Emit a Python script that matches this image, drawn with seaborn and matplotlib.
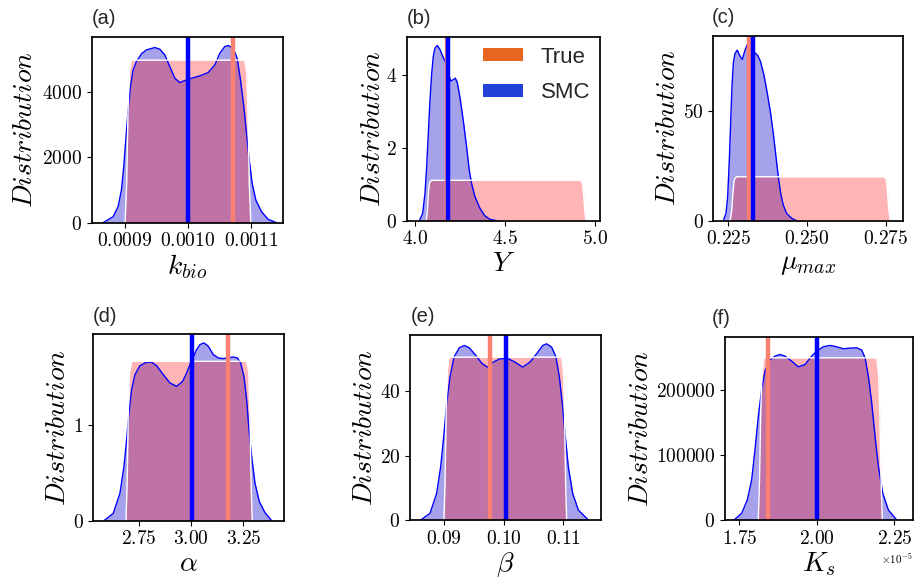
import matplotlib
matplotlib.use("Agg")
import matplotlib.pyplot as plt
from matplotlib.patches import Patch
import seaborn as sns

# ---------------- data ----------------
# (a) k_bio
kbio_post_x = [0.0008656, 0.0008815, 0.0008894, 0.0008947, 0.0008984, 0.0009016, 0.0009053, 0.0009090,
               0.0009132, 0.0009185, 0.0009265, 0.0009344, 0.0009476, 0.0009556, 0.0009635, 0.0009714,
               0.0009794, 0.0009873, 0.0009952, 0.0010058, 0.0010190, 0.0010323, 0.0010429, 0.0010508,
               0.0010587, 0.0010640, 0.0010720, 0.0010783, 0.0010836, 0.0010889, 0.0010931, 0.0010974,
               0.0011021, 0.0011079, 0.0011169, 0.0011275, 0.0011407]
kbio_post_d = [0, 184, 490, 1000, 1714, 2530, 3448, 4162, 4672, 4927, 5161, 5284, 5355, 5304, 5131, 4774,
               4417, 4284, 4345, 4417, 4488, 4590, 4825, 5182, 5386, 5416, 5335, 5029, 4366, 3550, 2734,
               1918, 1204, 694, 337, 102, 0]
kbio_prior_x = [0.0009005, 0.0009030, 0.0009050, 0.0009070, 0.0009100, 0.0010000, 0.0010905, 0.0010935,
                0.0010955, 0.0010975, 0.0011000]
kbio_prior_d = [0, 1200, 3300, 4600, 4970, 4970, 4970, 4600, 3300, 1200, 0]
kbio_true, kbio_smc = 0.001071, 0.0010

# (b) Y
Y_post_x = [4.0241, 4.0426, 4.0556, 4.0648, 4.0741, 4.0833, 4.0926, 4.1019, 4.1111, 4.1241, 4.1389, 4.1537,
            4.1667, 4.1981, 4.2130, 4.2241, 4.2352, 4.2500, 4.2685, 4.2870, 4.3019, 4.3148, 4.3333, 4.3611,
            4.3889, 4.4167, 4.4537]
Y_post_d = [0, 0.20, 0.75, 1.48, 2.39, 3.30, 4.03, 4.53, 4.75, 4.82, 4.71, 4.53, 4.39, 3.84, 3.88, 3.92,
            3.80, 3.39, 2.75, 2.02, 1.38, 1.02, 0.66, 0.34, 0.13, 0.04, 0]
Y_prior_x = [4.063, 4.069, 4.074, 4.080, 4.090, 4.5, 4.921, 4.930, 4.937, 4.943, 4.951]
Y_prior_d = [0, 0.28, 0.75, 1.03, 1.111, 1.111, 1.111, 1.03, 0.75, 0.28, 0]
Y_true, Y_smc = 4.180, 4.181

# (c) mu_max
mu_post_x = [0.22341, 0.22426, 0.22479, 0.22532, 0.22574, 0.22616, 0.22659, 0.22711, 0.22785, 0.22870,
             0.22944, 0.23029, 0.23103, 0.23145, 0.23367, 0.23430, 0.23525, 0.23631, 0.23737, 0.23843,
             0.23927, 0.24012, 0.24086, 0.24160, 0.24244, 0.24350, 0.24508, 0.24667]
mu_post_d = [0, 3.3, 10.9, 27.7, 44.4, 61.1, 71.7, 76.3, 77.8, 75.1, 73.6, 77.8, 80.4, 79.3, 76.3, 75.5,
             72.5, 66.4, 58.1, 48.9, 39.8, 29.2, 20.1, 12.5, 7.1, 3.3, 1.1, 0]
mu_prior_x = [0.2256, 0.2261, 0.2265, 0.2269, 0.2276, 0.2500, 0.2744, 0.2751, 0.2755, 0.2759, 0.2764]
mu_prior_d = [0, 5, 13.5, 18.8, 20.06, 20.06, 20.06, 18.8, 13.5, 5, 0]
mu_true, mu_smc = 0.2317, 0.2327

# (d) alpha
alpha_post_x = [2.5801, 2.6250, 2.6571, 2.6763, 2.6891, 2.7003, 2.7131, 2.7292, 2.7532, 2.7853, 2.8093,
                2.8333, 2.8654, 2.8974, 2.9295, 2.9583, 2.9776, 2.9936, 3.0256, 3.0417, 3.0609, 3.0817,
                3.1058, 3.1298, 3.1538, 3.2019, 3.2212, 3.2372, 3.2532, 3.2660, 3.2772, 3.2901, 3.3061,
                3.3269, 3.3542, 3.3862]
alpha_post_d = [0, 0.077, 0.286, 0.564, 0.843, 1.122, 1.366, 1.523, 1.617, 1.652, 1.652, 1.617, 1.523,
                1.436, 1.401, 1.453, 1.540, 1.627, 1.784, 1.836, 1.854, 1.819, 1.732, 1.697, 1.690, 1.707,
                1.697, 1.645, 1.505, 1.261, 0.948, 0.669, 0.390, 0.199, 0.084, 0]
alpha_prior_x = [2.686, 2.692, 2.697, 2.703, 2.713, 3.0, 3.266, 3.276, 3.282, 3.287, 3.293]
alpha_prior_d = [0, 0.42, 1.12, 1.55, 1.662, 1.662, 1.662, 1.55, 1.12, 0.42, 0]
alpha_true, alpha_smc = 3.178, 3.005

# (e) beta
beta_post_x = [0.086022, 0.087591, 0.088711, 0.089384, 0.089944, 0.090392, 0.090952, 0.091625, 0.092521,
               0.093361, 0.094202, 0.095154, 0.096275, 0.097227, 0.098235, 0.099356, 0.100756, 0.101877,
               0.103165, 0.104398, 0.105518, 0.106527, 0.107199, 0.108039, 0.108768, 0.109328, 0.109832,
               0.110280, 0.110840, 0.111569, 0.112521, 0.114202]
beta_post_d = [0, 2.06, 8.25, 16.49, 26.80, 36.08, 44.33, 50.52, 53.40, 54.12, 53.40, 51.34, 48.66, 47.42,
               48.97, 50.00, 50.00, 48.97, 47.42, 48.97, 51.55, 54.12, 54.64, 53.61, 50.52, 44.33, 36.08,
               26.80, 16.49, 8.25, 3.09, 0]
beta_prior_x = [0.08994, 0.09012, 0.09030, 0.09048, 0.09078, 0.1000, 0.10972, 0.11002, 0.11020, 0.11038, 0.11056]
beta_prior_d = [0, 12, 33, 46, 50.5, 50.5, 50.5, 46, 33, 12, 0]
beta_true, beta_smc = 0.0977, 0.1003

# (f) K_s
Ks_post_x = [1.7328e-5, 1.7575e-5, 1.7758e-5, 1.7898e-5, 1.8005e-5, 1.8113e-5, 1.8220e-5, 1.8328e-5,
             1.8468e-5, 1.8651e-5, 1.8812e-5, 1.8973e-5, 1.9188e-5, 1.9403e-5, 1.9618e-5, 1.9833e-5,
             1.9995e-5, 2.0210e-5, 2.0425e-5, 2.0640e-5, 2.0855e-5, 2.1070e-5, 2.1285e-5, 2.1446e-5,
             2.1554e-5, 2.1661e-5, 2.1769e-5, 2.1876e-5, 2.1984e-5, 2.2124e-5, 2.2306e-5, 2.2575e-5]
Ks_post_d = [0, 10256, 30768, 61536, 107688, 158968, 199992, 228196, 244606, 251272, 253836, 251272,
             243580, 234862, 238452, 251272, 258964, 265630, 267682, 265630, 262554, 263579, 264092,
             260502, 248708, 220504, 179480, 128200, 82048, 41024, 15384, 0]
Ks_prior_x = [1.811e-5, 1.815e-5, 1.819e-5, 1.823e-5, 1.829e-5, 2.0e-5, 2.193e-5, 2.199e-5, 2.203e-5,
              2.207e-5, 2.211e-5]
Ks_prior_d = [0, 60000, 165000, 225000, 248700, 248700, 248700, 225000, 165000, 60000, 0]
Ks_true, Ks_smc = 1.8435e-5, 2.002e-5

panel_titles = ["(a)", "(b)", "(c)", "(d)", "(e)", "(f)"]
x_labels = [r"$k_{bio}$", r"$Y$", r"$\mu_{max}$", r"$\alpha$", r"$\beta$", r"$K_s$"]
x_ticks = [[0.0009, 0.0010, 0.0011], [4.0, 4.5, 5.0], [0.225, 0.250, 0.275],
           [2.75, 3.00, 3.25], [0.09, 0.10, 0.11], [1.75e-5, 2.00e-5, 2.25e-5]]
y_ticks = [[0, 2000, 4000], [0, 2, 4], [0, 50], [0, 1], [0, 20, 40], [0, 100000, 200000]]
legend_labels = ["True", "SMC"]

# ---------------- style ----------------
sns.set_style("ticks")
plt.rcParams.update({
    "font.family": ["cmr10", "DejaVu Sans"],
    "mathtext.fontset": "cm",
    "axes.formatter.use_mathtext": True,
    "axes.unicode_minus": False,
    "axes.edgecolor": "black",
    "axes.linewidth": 1.25,
    "xtick.color": "black",
    "ytick.color": "black",
    "xtick.labelsize": 14,
    "ytick.labelsize": 14,
    "axes.labelcolor": "black",
})
SANS = "Liberation Sans"
POST_FILL = "#2a1fd0"

fig = plt.figure(figsize=(9.14, 5.79), dpi=100)
W, H = 914.0, 579.0

# pixel boxes: left, right, top, bottom
boxes = [(92.0, 283.0, 36.7, 222.7), (406.7, 600.0, 36.7, 220.7), (713.3, 903.3, 35.7, 220.7),
         (93.3, 284.3, 334.0, 520.7), (410.0, 601.0, 335.0, 520.0), (725.0, 912.7, 336.7, 520.0)]
xlims = [(0.000848, 0.001151), (3.954, 5.028), (0.22024, 0.2805),
         (2.529, 3.447), (0.08423, 0.11633), (1.7038e-5, 2.309e-5)]
ylabel_x_px = [38, 386, 681, 71, 378, 654]
title_x_px = [92, 407, 712, 93, 411, 712]

series = [
    (kbio_post_x, kbio_post_d, kbio_prior_x, kbio_prior_d, kbio_true, kbio_smc),
    (Y_post_x, Y_post_d, Y_prior_x, Y_prior_d, Y_true, Y_smc),
    (mu_post_x, mu_post_d, mu_prior_x, mu_prior_d, mu_true, mu_smc),
    (alpha_post_x, alpha_post_d, alpha_prior_x, alpha_prior_d, alpha_true, alpha_smc),
    (beta_post_x, beta_post_d, beta_prior_x, beta_prior_d, beta_true, beta_smc),
    (Ks_post_x, Ks_post_d, Ks_prior_x, Ks_prior_d, Ks_true, Ks_smc),
]

for i, (px, pd_, qx, qd, tv, sv) in enumerate(series):
    l, r, t, b = boxes[i]
    ax = fig.add_axes([l / W, 1 - b / H, (r - l) / W, (b - t) / H])
    # posterior (SMC)
    ax.fill_between(px, pd_, color=POST_FILL, alpha=0.42, lw=0)
    sns.lineplot(x=px, y=pd_, ax=ax, color="blue", lw=1.0, sort=False)
    # prior
    ax.fill_between(qx, qd, color="red", alpha=0.29, lw=0)
    sns.lineplot(x=qx, y=qd, ax=ax, color="white", lw=1.0, sort=False)
    # true & SMC estimates
    ax.axvline(tv, color="salmon", lw=3.2)
    ax.axvline(sv, color="blue", lw=3.2)

    ax.set_xlim(*xlims[i])
    ax.set_ylim(bottom=0)
    ax.set_xticks(x_ticks[i])
    ax.set_yticks(y_ticks[i])
    if i == 5:
        ax.ticklabel_format(axis="x", style="sci", scilimits=(0, 0), useMathText=True)
        ax.xaxis.get_offset_text().set_fontsize(8)
    ax.set_xlabel(x_labels[i], fontsize=20, labelpad=1.5)
    ax.set_ylabel(r"$Distribution$", fontsize=20)
    ax.yaxis.set_label_coords((ylabel_x_px[i] - l) / (r - l), 0.5)
    ax.set_title(panel_titles[i], loc="left", pad=9, fontsize=14.5, family=SANS,
                 x=(title_x_px[i] - l) / (r - l))
    for s in ax.spines.values():
        s.set_visible(True)
        s.set_color("black")

    if i == 1:
        handles = [Patch(facecolor="#e6651f", edgecolor="none"),
                   Patch(facecolor="#2342d8", edgecolor="none")]
        ax.legend(handles, legend_labels, loc="upper right", frameon=False,
                  prop={"family": SANS, "size": 16}, handlelength=1.8, handleheight=0.5,
                  labelspacing=0.65, handletextpad=0.8, borderaxespad=0.05)

fig.savefig("out.png", dpi=100)
